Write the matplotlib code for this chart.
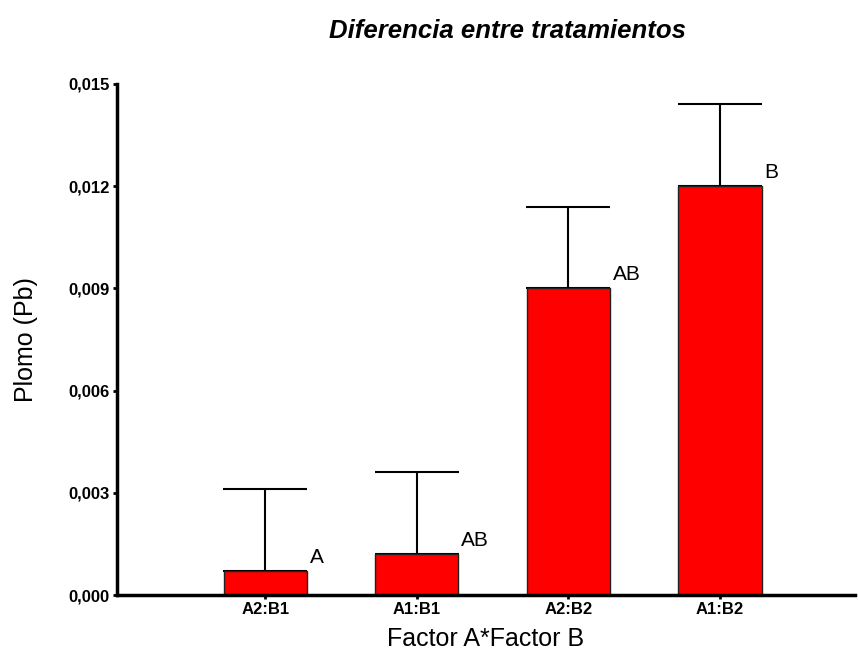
import numpy as np
import matplotlib
matplotlib.use("Agg")
import matplotlib.pyplot as plt
from matplotlib.ticker import FuncFormatter

plt.rcParams['font.family'] = ['Liberation Sans', 'DejaVu Sans']

# Data
categories = ["A2:B1", "A1:B1", "A2:B2", "A1:B2"]
means = [0.0007, 0.0012, 0.0090, 0.0120]
errors = [0.0024, 0.0024, 0.0024, 0.0024]
letters = ["A", "AB", "AB", "B"]
yticks = [0.0, 0.003, 0.006, 0.009, 0.012, 0.015]

fig = plt.figure(figsize=(8.59, 6.51), dpi=100)
ax = fig.add_axes([0.136, 0.086, 0.859, 0.785])

x = np.arange(len(categories))
width = 0.55

ax.bar(x, means, width=width, color="#ff0000", edgecolor="#222222", linewidth=1.0, zorder=2)
ax.errorbar(x, means, yerr=[np.zeros(len(errors)), errors], fmt="none",
            ecolor="black", elinewidth=1.5, capsize=30, capthick=1.5, zorder=1)

# significance letters
for xi, m, lab in zip(x, means, letters):
    ax.annotate(lab, (xi + width / 2, m), xytext=(2, 3), textcoords="offset points",
                ha="left", va="bottom", fontsize=15)

ax.set_xlim(-0.98, 3.89)
ax.set_ylim(0, 0.015)
ax.set_xticks(x)
ax.set_xticklabels(categories, fontsize=12, fontweight="bold")
ax.set_yticks(yticks)
ax.yaxis.set_major_formatter(FuncFormatter(lambda v, p: f"{v:.3f}".replace(".", ",")))
for lbl in ax.get_yticklabels():
    lbl.set_fontweight("bold")
    lbl.set_fontsize(12)

ax.spines["top"].set_visible(False)
ax.spines["right"].set_visible(False)
ax.spines["left"].set_linewidth(2.5)
ax.spines["bottom"].set_linewidth(2.5)
ax.tick_params(axis="both", direction="out", length=3, width=2, pad=2)

ax.set_xlabel("Factor A*Factor B", fontsize=18, labelpad=7)
ax.set_ylabel("Plomo (Pb)", fontsize=18, labelpad=22)
fig.text(0.591, 0.952, "Diferencia entre tratamientos", ha="center", va="center",
         fontsize=18.5, fontweight="bold", style="italic")

plt.savefig("out.png", dpi=100)
